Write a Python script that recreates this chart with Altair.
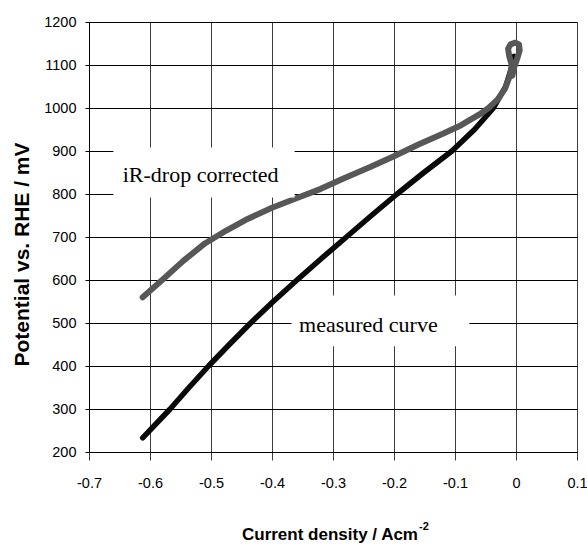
import altair as alt
import pandas as pd

# Polarisation curve as measured
measured_j = [-0.612, -0.567, -0.536, -0.504, -0.470, -0.435, -0.398, -0.359, -0.319,
              -0.278, -0.237, -0.195, -0.151, -0.105, -0.068, -0.037, -0.017, -0.008,
              -0.003]
measured_e = [233, 300, 350, 400, 450, 500, 550, 600, 650,
              700, 750, 800, 850, 900, 950, 1000, 1050, 1090,
              1120]

# Same curve after iR-drop correction (ends in the small loop at open circuit)
corrected_j = [-0.612, -0.580, -0.545, -0.510, -0.475, -0.440, -0.400, -0.360, -0.320,
               -0.280, -0.240, -0.200, -0.160, -0.120, -0.090, -0.060, -0.045, -0.030,
               -0.018, -0.010, -0.007, -0.011, -0.013, -0.009, -0.001, 0.005, 0.006,
               0.002, -0.003, -0.006]
corrected_e = [560, 600, 645, 685, 715, 742, 768, 790, 812,
               838, 862, 888, 915, 940, 960, 985, 1000, 1020,
               1045, 1075, 1100, 1120, 1138, 1148, 1152, 1148, 1134,
               1115, 1095, 1075]

x_ticks = [-0.7, -0.6, -0.5, -0.4, -0.3, -0.2, -0.1, 0.0, 0.1]
y_ticks = [200, 300, 400, 500, 600, 700, 800, 900, 1000, 1100, 1200]

# Annotation boxes: label, box extent (data units) and label anchor
box_labels = ["iR-drop corrected", "measured curve"]
box_j1 = [-0.660, -0.368]
box_j2 = [-0.363, -0.0765]
box_e1 = [908, 564]
box_e2 = [792, 446]
label_j = [-0.517, -0.242]
label_e = [829, 479]

W, H = 488, 430
PAD_L, PAD_T = 89, 22

meas = pd.DataFrame({"j": measured_j, "e": measured_e, "i": range(len(measured_j))})
corr = pd.DataFrame({"j": corrected_j, "e": corrected_e, "i": range(len(corrected_j))})
boxes = pd.DataFrame({"label": box_labels, "j1": box_j1, "j2": box_j2,
                      "e1": box_e1, "e2": box_e2, "lj": label_j, "le": label_e})

xscale = alt.Scale(domain=[-0.7, 0.1], nice=False, zero=False)
yscale = alt.Scale(domain=[200, 1200], nice=False, zero=False)

label_font = "Liberation Sans"

x_axis = alt.Axis(
    values=x_ticks,
    labelExpr="datum.value < -0.001 ? '-' + format(abs(datum.value), '.1f') : "
              "(abs(datum.value) < 0.001 ? '0' : format(datum.value, '.1f'))",
    grid=True, gridColor="#3c3c3c", gridWidth=1, gridOpacity=1,
    domain=True, domainColor="#000000", domainWidth=1,
    ticks=True, tickSize=8, tickColor="#3c3c3c", tickWidth=1,
    labelFont=label_font, labelFontSize=14.5, labelColor="#000000",
    labelPadding=16, labelFlush=False, labelOverlap=False,
    title=None,
)
y_axis = alt.Axis(
    values=y_ticks, format="d",
    grid=True, gridColor="#000000", gridWidth=1, gridOpacity=1,
    domain=True, domainColor="#000000", domainWidth=1,
    ticks=True, tickSize=4, tickColor="#000000", tickWidth=1,
    labelFont=label_font, labelFontSize=14.5, labelColor="#000000",
    labelPadding=9, labelFlush=False, labelOverlap=False,
    title="Potential vs. RHE / mV",
    titleFont="Liberation Sans", titleFontSize=21, titleFontWeight="bold",
    titleColor="#000000", titleAngle=270, titleX=-67, titleY=232,
    titleAlign="center", titleBaseline="middle",
)

base_meas = alt.Chart(meas).mark_line(color="#0a0a0a", strokeWidth=5.5,
                                      strokeCap="round", strokeJoin="round").encode(
    x=alt.X("j:Q", scale=xscale, axis=x_axis),
    y=alt.Y("e:Q", scale=yscale, axis=y_axis),
    order="i:Q",
)
line_corr = alt.Chart(corr).mark_line(color="#575757", strokeWidth=6,
                                      strokeCap="round", strokeJoin="round").encode(
    x=alt.X("j:Q", scale=xscale),
    y=alt.Y("e:Q", scale=yscale),
    order="i:Q",
)

rects = alt.Chart(boxes).mark_rect(color="white").encode(
    x=alt.X("j1:Q", scale=xscale),
    x2="j2:Q",
    y=alt.Y("e1:Q", scale=yscale),
    y2="e2:Q",
)
labels = alt.Chart(boxes).mark_text(
    font="Liberation Serif", fontSize=22, color="#000000",
    align="center", baseline="alphabetic",
).encode(
    x=alt.X("lj:Q", scale=xscale),
    y=alt.Y("le:Q", scale=yscale),
    text="label:N",
)

title_main = alt.Chart(pd.DataFrame({"t": ["Current density / Acm"]})).mark_text(
    font=label_font, fontSize=17, fontWeight="bold", color="#000000",
    align="right", baseline="alphabetic",
).encode(text="t:N", x=alt.value(418 - PAD_L), y=alt.value(540 - PAD_T))
title_sup = alt.Chart(pd.DataFrame({"t": ["-2"]})).mark_text(
    font=label_font, fontSize=11, fontWeight="bold", color="#000000",
    align="left", baseline="alphabetic",
).encode(text="t:N", x=alt.value(419 - PAD_L), y=alt.value(530 - PAD_T))

chart = alt.layer(base_meas, line_corr, rects, labels, title_main, title_sup).properties(
    width=W, height=H,
    autosize=alt.AutoSizeParams(type="none"),
    padding={"left": PAD_L, "top": PAD_T, "right": 587 - PAD_L - W, "bottom": 546 - PAD_T - H},
    background="white",
).configure_view(stroke=None)

chart.save("out.html", embed_options={"renderer": "svg", "actions": False})
